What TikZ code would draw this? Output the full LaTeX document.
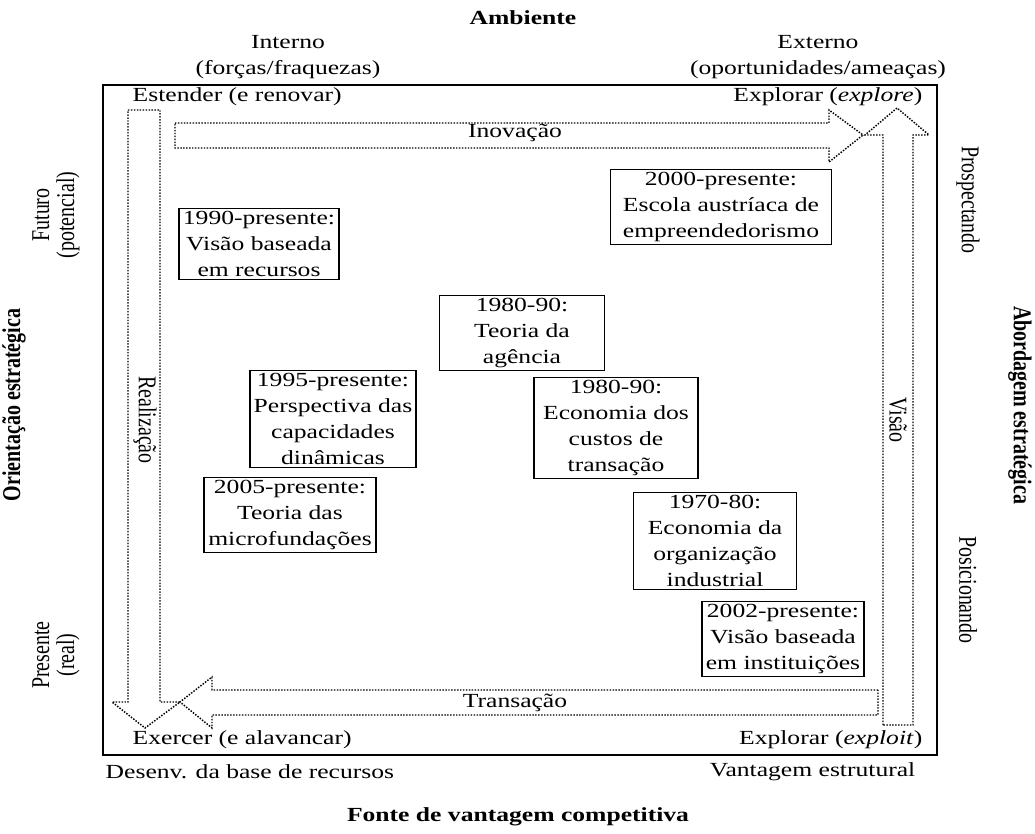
\documentclass[tikz,border=0pt]{standalone}
\usepackage{fontspec}
\setmainfont{Liberation Serif}[FakeStretch=1.28]
\newfontfamily\rotfont{Liberation Serif}[FakeStretch=0.78]
\begin{document}
\begin{tikzpicture}[x=0.75pt,y=-0.75pt,
    font=\fontsize{15}{19.5}\selectfont,
    periodo/.style={draw,line width=1.2pt,align=center,inner xsep=3pt,inner ysep=2pt},
    vert/.style={font=\rotfont\fontsize{19.2}{18.75}\selectfont,align=center},
    seta/.style={line width=1.1pt,dash pattern=on 1.1pt off 1.1pt}]
      \useasboundingbox (0,0) rectangle (1035,834);
      \draw[line width=1.6pt] (103,85) rectangle (937,755);
      \draw
        (523,18) node[font=\fontsize{15}{19.5}\selectfont\bfseries] (amb){Ambiente}
        (288,57) node[align=center] (int){Interno\\(forças/fraquezas)}
        (818,57) node[align=center] (ext){Externo\\(oportunidades/ameaças)}
        (128,97) node[anchor=west] (est){Estender (e renovar)}
        (927,97) node[anchor=east] (exe){Explorar (\textit{explore})}
        (128,740) node[anchor=west] (exc){Exercer (e alavancar)}
        (927,740) node[anchor=east] (exi){Explorar (\textit{exploit})}
        (101,772) node[anchor=west] (des){Desenv. da base de recursos}
        (920,772) node[anchor=east] (van){Vantagem estrutural}
        (518,817) node[font=\fontsize{15}{19.5}\selectfont\bfseries] (fon){Fonte de vantagem competitiva};
      \draw
        (56,215) node[vert,rotate=90] (fut){Futuro\\(potencial)}
        (56,655) node[vert,rotate=90] (pre){Presente\\(real)}
        (14,405) node[vert,rotate=90,font=\rotfont\fontsize{19.2}{18.75}\selectfont\bfseries] (ori){Orientação estratégica}
        (968,200) node[vert,rotate=-90] (pro){Prospectando}
        (968,590) node[vert,rotate=-90] (pos){Posicionando}
        (1020,405) node[vert,rotate=-90,font=\rotfont\fontsize{19.2}{18.75}\selectfont\bfseries] (abo){Abordagem estratégica};
      \begin{scope}[seta]
        \draw (175,123) -- (829,123) -- (829,110) -- (863,135) -- (829,162) -- (829,148) -- (175,148) -- cycle;
        \draw (883,725) -- (883,135) -- (865,135) -- (897,108) -- (929,135) -- (913,135) -- (913,725) -- cycle;
        \draw (128,110) -- (160,110) -- (160,702) -- (180,702) -- (145,728) -- (112,702) -- (128,702) -- cycle;
        \draw (878,690) -- (212,690) -- (212,677) -- (180,702) -- (212,728) -- (212,715) -- (878,715) -- cycle;
      \end{scope}
      \draw
        (515,133) node (ino){Inovação}
        (515,703) node (tra){Transação}
        (145,420) node[vert,rotate=-90] (rea){Realização}
        (898,420) node[vert,rotate=-90] (vis){Visão};
      \begin{scope}[periodo]
        \node[periodo] (r1990) at (259,244) {1990-presente:\\Visão baseada\\em recursos};
        \node[periodo,minimum width=166pt] (r2000) at (721,207) {2000-presente:\\Escola austríaca de\\empreendedorismo};
        \node[periodo,minimum width=124pt] (r1980a) at (522,333) {1980-90:\\Teoria da\\agência};
        \node[periodo,minimum width=123pt] (r1980b) at (616,428) {1980-90:\\Economia dos\\custos de\\transação};
        \node[periodo,minimum width=122pt] (r1970) at (715,541) {1970-80:\\Economia da\\organização\\industrial};
        \node[periodo] (r1995) at (333,419) {1995-presente:\\Perspectiva das\\capacidades\\dinâmicas};
        \node[periodo] (r2005) at (290,515) {2005-presente:\\Teoria das\\microfundações};
        \node[periodo] (r2002) at (783,639) {2002-presente:\\Visão baseada\\em instituições};
      \end{scope}
\end{tikzpicture}
\end{document}
